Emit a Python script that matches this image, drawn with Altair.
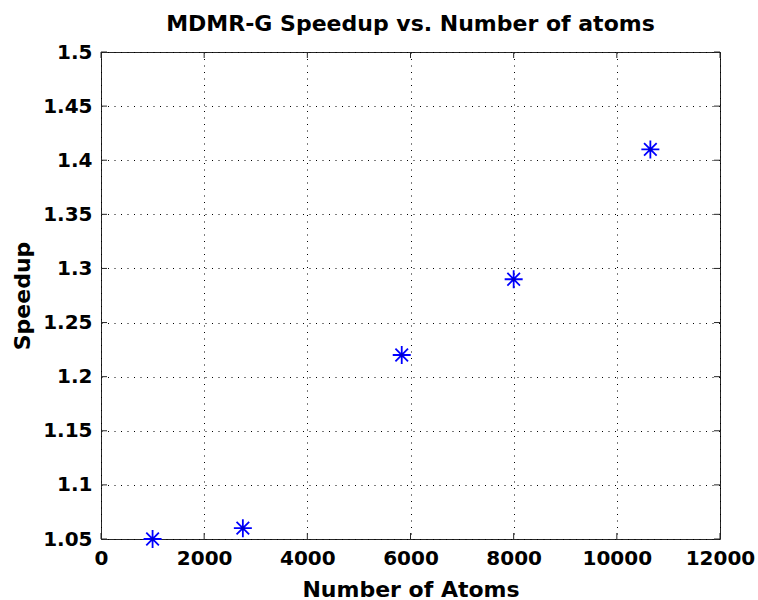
import altair as alt
import pandas as pd

# ---- data ----
atoms = [1000, 2750, 5830, 8000, 10650]
speedup = [1.05, 1.06, 1.22, 1.29, 1.41]
x_ticks = [0, 2000, 4000, 6000, 8000, 10000, 12000]
y_ticks = [1.05, 1.1, 1.15, 1.2, 1.25, 1.3, 1.35, 1.4, 1.45, 1.5]

W, H = 619, 487
FONT = "DejaVu Sans"
FRAME = "#262626"
ASTERISK = "M0,-1L0,1M-1,0L1,0M-0.7,-0.7L0.7,0.7M-0.7,0.7L0.7,-0.7"

df = pd.DataFrame({"atoms": atoms, "speedup": speedup})
xt = pd.DataFrame({"atoms": x_ticks})
yt = pd.DataFrame({"speedup": y_ticks})

xscale = alt.Scale(domain=[0, 12000], nice=False, zero=False)
yscale = alt.Scale(domain=[1.05, 1.5], nice=False, zero=False)

xaxis = alt.Axis(
    values=x_ticks, format="d", title="Number of Atoms",
    grid=True, gridDash=[1, 5.5], gridColor="#000000", gridOpacity=1, gridWidth=1,
    ticks=False, tickSize=0, domain=False,
    labelFont=FONT, labelFontSize=20, labelFontWeight="bold", labelColor="#000000",
    labelPadding=9, labelFlush=False, labelOverlap=False,
    titleFont=FONT, titleFontSize=22, titleFontWeight="bold", titleColor="#000000",
    titlePadding=11,
)
yaxis = alt.Axis(
    values=y_ticks, format="~f", title="Speedup",
    grid=True, gridDash=[1, 5.5], gridColor="#000000", gridOpacity=1, gridWidth=1,
    ticks=False, tickSize=0, domain=False,
    labelFont=FONT, labelFontSize=20, labelFontWeight="bold", labelColor="#000000",
    labelPadding=9, labelFlush=False, labelOverlap=False,
    titleFont=FONT, titleFontSize=22, titleFontWeight="bold", titleColor="#000000",
    titlePadding=8,
)

X = alt.X("atoms:Q", scale=xscale, axis=xaxis, title="Number of Atoms")
Y = alt.Y("speedup:Q", scale=yscale, axis=yaxis, title="Speedup")

points = alt.Chart(df).mark_point(
    shape=ASTERISK, size=324, filled=False, stroke="#0000ff", strokeWidth=1.8, opacity=1
).encode(x=X, y=Y)
centers = alt.Chart(df).mark_circle(size=14, color="#0000c8", opacity=1).encode(x=X, y=Y)

tick_left = alt.Chart(yt).mark_rule(color=FRAME, strokeWidth=1).encode(
    y=Y, x=alt.value(0), x2=alt.value(6))
tick_right = alt.Chart(yt).mark_rule(color=FRAME, strokeWidth=1).encode(
    y=Y, x=alt.value(W - 6), x2=alt.value(W))
tick_bottom = alt.Chart(xt).mark_rule(color=FRAME, strokeWidth=1).encode(
    x=X, y=alt.value(H - 6), y2=alt.value(H))
tick_top = alt.Chart(xt).mark_rule(color=FRAME, strokeWidth=1).encode(
    x=X, y=alt.value(0), y2=alt.value(6))

chart = alt.layer(
    points, tick_left, tick_right, tick_bottom, tick_top, centers
).properties(
    width=W, height=H,
    title=alt.TitleParams(
        "MDMR-G Speedup vs. Number of atoms", font=FONT, fontSize=22,
        fontWeight="bold", color="#000000", anchor="middle", offset=6,
    ),
    autosize=alt.AutoSizeParams(type="none"),
    padding={"left": 101, "top": 52, "right": 38, "bottom": 61},
    background="#ffffff",
).configure_view(
    stroke=FRAME, strokeWidth=1
)

chart.save("out.html", embed_options={"renderer": "svg", "actions": False})
